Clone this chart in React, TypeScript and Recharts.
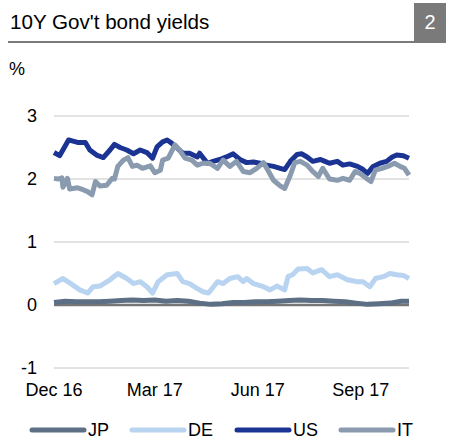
import { LineChart, Line, XAxis, YAxis, CartesianGrid } from "recharts";

// days counted from 1 Dec 2016
const TICK_DAYS = [0, 90, 182, 274];
const TICK_LABELS = ["Dec 16", "Mar 17", "Jun 17", "Sep 17"];
const Y_TICKS = [-1, 0, 1, 2, 3];

const jpDays = [0, 10, 20, 30, 40, 50, 60, 70, 80, 90, 100, 110, 120, 130, 140, 150, 160, 170, 180, 190, 200, 210, 220, 230, 240, 250, 260, 270, 280, 290, 300, 310, 317];
const jpVals = [0.04, 0.06, 0.05, 0.05, 0.05, 0.06, 0.07, 0.08, 0.07, 0.08, 0.06, 0.07, 0.06, 0.03, 0.01, 0.02, 0.04, 0.04, 0.05, 0.05, 0.06, 0.07, 0.08, 0.07, 0.07, 0.06, 0.05, 0.03, 0.01, 0.02, 0.03, 0.06, 0.06];

const deDays = [0, 8, 14, 23, 30, 35, 41, 50, 57, 65, 71, 77, 83, 88, 93, 101, 110, 115, 121, 128, 133, 138, 146, 151, 157, 164, 169, 172, 178, 187, 193, 199, 206, 209, 213, 218, 226, 231, 239, 246, 253, 262, 271, 276, 282, 287, 294, 300, 306, 312, 317];
const deVals = [0.34, 0.42, 0.35, 0.24, 0.19, 0.29, 0.3, 0.4, 0.5, 0.42, 0.34, 0.37, 0.29, 0.19, 0.37, 0.48, 0.5, 0.37, 0.34, 0.26, 0.21, 0.19, 0.37, 0.34, 0.42, 0.45, 0.37, 0.42, 0.34, 0.29, 0.24, 0.3, 0.24, 0.45, 0.48, 0.57, 0.58, 0.51, 0.56, 0.45, 0.48, 0.4, 0.37, 0.37, 0.29, 0.42, 0.45, 0.5, 0.48, 0.47, 0.42];

const usDays = [0, 5, 13, 21, 28, 32, 38, 44, 50, 54, 59, 65, 71, 77, 83, 88, 92, 97, 101, 105, 110, 115, 121, 128, 130, 137, 142, 148, 154, 160, 166, 172, 178, 184, 190, 196, 202, 206, 211, 217, 221, 226, 231, 238, 242, 246, 253, 258, 264, 271, 276, 280, 285, 291, 297, 302, 306, 312, 317];
const usVals = [2.42, 2.37, 2.62, 2.58, 2.58, 2.46, 2.38, 2.34, 2.46, 2.55, 2.5, 2.46, 2.4, 2.46, 2.42, 2.33, 2.51, 2.59, 2.62, 2.57, 2.49, 2.41, 2.41, 2.35, 2.41, 2.25, 2.28, 2.31, 2.35, 2.4, 2.31, 2.26, 2.27, 2.25, 2.22, 2.2, 2.17, 2.15, 2.28, 2.39, 2.4, 2.35, 2.28, 2.31, 2.28, 2.25, 2.28, 2.22, 2.24, 2.2, 2.15, 2.09, 2.2, 2.25, 2.28, 2.35, 2.38, 2.37, 2.33];

const itDays = [0, 4, 7, 8, 12, 14, 21, 26, 30, 34, 37, 41, 47, 52, 54, 57, 62, 66, 70, 74, 79, 86, 90, 95, 97, 102, 108, 112, 117, 123, 128, 133, 139, 146, 151, 157, 163, 169, 175, 181, 187, 191, 196, 202, 206, 211, 215, 220, 226, 231, 236, 240, 246, 253, 258, 264, 269, 273, 279, 283, 287, 293, 298, 304, 309, 313, 317];
const itVals = [2.01, 2.0, 2.02, 1.87, 2.01, 1.84, 1.86, 1.83, 1.8, 1.75, 1.96, 1.89, 1.9, 2.01, 2.0, 2.2, 2.3, 2.34, 2.2, 2.22, 2.17, 2.21, 2.1, 2.14, 2.3, 2.33, 2.54, 2.46, 2.33, 2.3, 2.22, 2.25, 2.25, 2.17, 2.3, 2.2, 2.28, 2.12, 2.1, 2.17, 2.26, 2.14, 1.98, 1.89, 1.85, 2.06, 2.26, 2.28, 2.22, 2.12, 2.04, 2.17, 2.0, 1.98, 2.01, 1.98, 2.12, 2.09, 2.01, 1.96, 2.14, 2.17, 2.2, 2.25, 2.2, 2.17, 2.06];

const toData = (days: number[], vals: number[]) =>
  days.map((d, i) => ({ d, v: vals[i] }));

const SERIES = [
  { name: "JP", color: "#5c6f84", data: toData(jpDays, jpVals) },
  { name: "DE", color: "#b8d4f0", data: toData(deDays, deVals) },
  { name: "US", color: "#1b3493", data: toData(usDays, usVals) },
  { name: "IT", color: "#8a9bb0", data: toData(itDays, itVals) },
];

const LEGEND_X = [30, 130, 235, 339];

const FONT = '"Liberation Sans", Arial, sans-serif';

// grid: light lines, darker zero line (index 1 = tick 0)
const gridLine = (p: any) => (
  <line
    key={`h-${p.index}`}
    x1={p.x1}
    y1={p.y1}
    x2={p.x2}
    y2={p.y2}
    stroke={Y_TICKS[p.index] === 0 ? "#767676" : "#c6c6c6"}
    strokeWidth={Y_TICKS[p.index] === 0 ? 2.5 : 1}
  />
);

export default function App() {
  return (
    <div
      style={{
        position: "absolute",
        left: 0,
        top: 0,
        width: 449,
        height: 439,
        background: "#fff",
        fontFamily: FONT,
      }}
    >
      <div style={{ position: "absolute", left: 10, top: 12, fontSize: 20.6, lineHeight: "20px", color: "#000" }}>
        10Y Gov't bond yields
      </div>
      <div style={{ position: "absolute", left: 8, top: 41, width: 406, height: 2, background: "#7a7a7a" }} />
      <div
        style={{
          position: "absolute",
          left: 414,
          top: 3,
          width: 32,
          height: 40,
          background: "#7a7a7a",
          color: "#fff",
          fontSize: 20,
          lineHeight: "20px",
          textAlign: "center",
          paddingTop: 9,
          boxSizing: "border-box",
        }}
      >
        2
      </div>
      <div style={{ position: "absolute", left: 9, top: 60, fontSize: 18, lineHeight: "18px" }}>%</div>

      <div style={{ position: "absolute", left: 0, top: 0 }}>
        <LineChart width={449} height={400} margin={{ top: 116, right: 40, bottom: 0, left: 0 }}>
          <CartesianGrid vertical={false} horizontal={gridLine} />
          <XAxis
            type="number"
            dataKey="d"
            domain={[0, 317]}
            ticks={TICK_DAYS}
            tickFormatter={(d: number) => TICK_LABELS[TICK_DAYS.indexOf(d)]}
            interval={0}
            axisLine={false}
            tickLine={false}
            tickSize={0}
            tickMargin={15}
            height={32}
            tick={{ fontSize: 18, fill: "#000", fontFamily: FONT }}
          />
          <YAxis
            type="number"
            domain={[-1, 3]}
            ticks={Y_TICKS}
            width={54}
            axisLine={false}
            tickLine={false}
            tickSize={0}
            tickMargin={17}
            tick={{ fontSize: 18, fill: "#000", fontFamily: FONT }}
          />
          {SERIES.map((s) => (
            <Line
              key={s.name}
              data={s.data}
              dataKey="v"
              name={s.name}
              stroke={s.color}
              strokeWidth={5}
              dot={false}
              strokeLinejoin="round"
              isAnimationActive={false}
            />
          ))}
        </LineChart>
      </div>

      <svg style={{ position: "absolute", left: 0, top: 415 }} width={449} height={24}>
        {SERIES.map((s, i) => (
          <g key={s.name}>
            <line
              x1={LEGEND_X[i] + 2}
              x2={LEGEND_X[i] + 54}
              y1={15}
              y2={15}
              stroke={s.color}
              strokeWidth={5}
              strokeLinecap="round"
            />
            <text x={LEGEND_X[i] + 58} y={21} fontSize={18} fontFamily={FONT} fill="#000">
              {s.name}
            </text>
          </g>
        ))}
      </svg>
    </div>
  );
}
